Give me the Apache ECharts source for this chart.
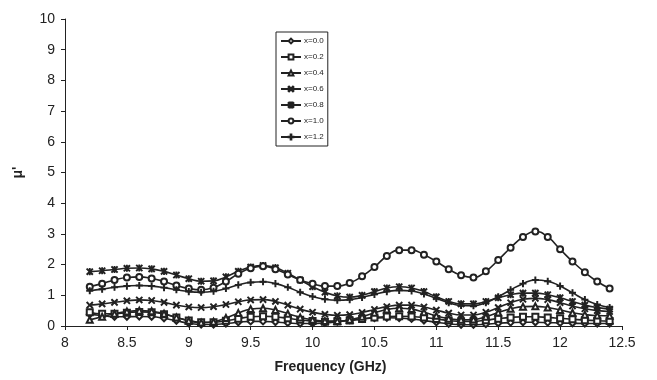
<!DOCTYPE html>
<html>
<head>
<meta charset="utf-8">
<script src="https://cdn.jsdelivr.net/npm/echarts@6/dist/echarts.min.js"></script>
<style>
  html, body { margin: 0; padding: 0; background: #fff; }
  #main { width: 657px; height: 380px; }
</style>
</head>
<body>
<div id="main"></div>
<script>
var freq = [8.2, 8.3, 8.4, 8.5, 8.6, 8.7, 8.8, 8.9, 9.0, 9.1, 9.2, 9.3, 9.4, 9.5, 9.6, 9.7, 9.8, 9.9,
  10.0, 10.1, 10.2, 10.3, 10.4, 10.5, 10.6, 10.7, 10.8, 10.9, 11.0, 11.1, 11.2, 11.3, 11.4, 11.5,
  11.6, 11.7, 11.8, 11.9, 12.0, 12.1, 12.2, 12.3, 12.4];

var x00 = [0.38, 0.34, 0.3, 0.3, 0.31, 0.3, 0.25, 0.17, 0.09, 0.05, 0.05, 0.08, 0.12, 0.15, 0.15, 0.13, 0.1, 0.08,
  0.08, 0.1, 0.14, 0.19, 0.23, 0.26, 0.27, 0.26, 0.23, 0.18, 0.12, 0.07, 0.04, 0.04, 0.06, 0.09,
  0.11, 0.12, 0.12, 0.11, 0.1, 0.09, 0.08, 0.08, 0.08];
var x02 = [0.45, 0.4, 0.4, 0.43, 0.46, 0.45, 0.38, 0.28, 0.18, 0.12, 0.12, 0.17, 0.24, 0.3, 0.32, 0.3, 0.25, 0.2,
  0.16, 0.14, 0.15, 0.18, 0.23, 0.28, 0.31, 0.32, 0.31, 0.28, 0.23, 0.18, 0.15, 0.15, 0.19, 0.24,
  0.28, 0.3, 0.3, 0.28, 0.25, 0.22, 0.19, 0.17, 0.16];
var x04 = [0.2, 0.3, 0.4, 0.47, 0.5, 0.48, 0.4, 0.28, 0.17, 0.11, 0.14, 0.26, 0.42, 0.55, 0.58, 0.52, 0.4, 0.28,
  0.2, 0.16, 0.16, 0.2, 0.3, 0.43, 0.54, 0.58, 0.55, 0.45, 0.33, 0.24, 0.2, 0.21, 0.3, 0.44,
  0.56, 0.63, 0.64, 0.6, 0.52, 0.43, 0.37, 0.34, 0.33];
var x06 = [0.68, 0.72, 0.77, 0.82, 0.85, 0.83, 0.77, 0.68, 0.62, 0.6, 0.63, 0.7, 0.79, 0.85, 0.86, 0.8, 0.68, 0.55,
  0.45, 0.38, 0.35, 0.37, 0.44, 0.54, 0.63, 0.68, 0.68, 0.62, 0.52, 0.42, 0.36, 0.36, 0.45, 0.6,
  0.76, 0.87, 0.9, 0.86, 0.76, 0.65, 0.56, 0.5, 0.47];
var x08 = [1.77, 1.8, 1.84, 1.88, 1.89, 1.86, 1.78, 1.66, 1.54, 1.46, 1.47, 1.6, 1.78, 1.92, 1.97, 1.9, 1.72, 1.5,
  1.28, 1.1, 0.98, 0.94, 1.0, 1.12, 1.24, 1.28, 1.24, 1.12, 0.95, 0.8, 0.72, 0.72, 0.8, 0.92,
  1.02, 1.07, 1.07, 1.02, 0.92, 0.8, 0.68, 0.6, 0.55];
var x10 = [1.28, 1.38, 1.5, 1.58, 1.6, 1.55, 1.45, 1.32, 1.22, 1.18, 1.25, 1.45, 1.7, 1.88, 1.95, 1.85, 1.68, 1.5,
  1.38, 1.3, 1.3, 1.4, 1.62, 1.92, 2.28, 2.47, 2.47, 2.32, 2.1, 1.85, 1.65, 1.58, 1.78, 2.15,
  2.55, 2.9, 3.08, 2.9, 2.5, 2.1, 1.75, 1.45, 1.22];
var x12 = [1.15, 1.2, 1.26, 1.3, 1.32, 1.3, 1.25, 1.18, 1.12, 1.1, 1.13, 1.22, 1.34, 1.42, 1.44, 1.38, 1.26, 1.1,
  0.96, 0.87, 0.84, 0.86, 0.93, 1.03, 1.12, 1.16, 1.14, 1.04, 0.9, 0.76, 0.67, 0.66, 0.76, 0.95,
  1.18, 1.38, 1.5, 1.46, 1.3, 1.08, 0.86, 0.7, 0.6];

var names = ['x=0.0', 'x=0.2', 'x=0.4', 'x=0.6', 'x=0.8', 'x=1.0', 'x=1.2'];
var values = [x00, x02, x04, x06, x08, x10, x12];
var xTicks = ['8', '8.5', '9', '9.5', '10', '10.5', '11', '11.5', '12', '12.5'];

var crossX = 'path://M0,1L1,0L5,4L9,0L10,1L6,5L10,9L9,10L5,6L1,10L0,9L4,5Z';
var star = 'path://M0,1L1,0L5,4L9,0L10,1L6,5L10,9L9,10L5,6L1,10L0,9L4,5ZM4.4,0H5.6V10H4.4Z';
var plus = 'path://M4.3,0H5.7V4.3H10V5.7H5.7V10H4.3V5.7H0V4.3H4.3Z';
var symbols = ['emptyDiamond', 'emptyRect', 'emptyTriangle', crossX, star, 'emptyCircle', plus];

var dom = document.getElementById('main');
var myChart = echarts.init(dom, null, { renderer: 'canvas' });

var series = names.map(function (n, i) {
  return {
    name: n,
    type: 'line',
    smooth: true,
    symbol: symbols[i],
    symbolSize: 6,
    showAllSymbol: true,
    color: '#222',
    lineStyle: { width: 1.6, color: '#222' },
    itemStyle: { color: '#222', borderColor: '#222', borderWidth: 1.1 },
    data: freq.map(function (f, k) { return [f, values[i][k]]; })
  };
});

var option = {
  animation: false,
  backgroundColor: '#fff',
  textStyle: { fontFamily: 'Liberation Sans, Arial, sans-serif' },
  legend: {
    orient: 'vertical',
    left: 276,
    top: 32,
    padding: [5, 4, 5, 4],
    itemGap: 8,
    itemWidth: 20,
    itemHeight: 6,
    backgroundColor: '#fff',
    borderColor: '#222',
    borderWidth: 1,
    textStyle: { fontSize: 8, color: '#222', padding: [0, 0, 0, -2] },
    data: names
  },
  grid: { left: 65, right: 35, top: 19, bottom: 54 },
  xAxis: {
    type: 'value',
    min: 8,
    max: 12.5,
    interval: 0.5,
    name: 'Frequency (GHz)',
    nameLocation: 'middle',
    nameGap: 34,
    nameTextStyle: { fontSize: 14, fontWeight: 'bold', color: '#222', padding: [0, 26, 0, 0] },
    axisLine: { lineStyle: { color: '#222', width: 1 } },
    axisTick: { show: true, length: 4, lineStyle: { color: '#222' } },
    axisLabel: {
      fontSize: 14, color: '#222', margin: 10,
      formatter: function (v) {
        var s = String(v);
        return xTicks.indexOf(s) >= 0 ? s : '';
      }
    },
    splitLine: { show: false }
  },
  yAxis: {
    type: 'value',
    min: 0,
    max: 10,
    interval: 1,
    name: "μ'",
    nameLocation: 'middle',
    nameGap: 40,
    nameRotate: 90,
    nameTextStyle: { fontSize: 14, fontWeight: 'bold', color: '#222' },
    axisLine: { show: true, lineStyle: { color: '#222', width: 1 } },
    axisTick: { show: true, length: 4, lineStyle: { color: '#222' } },
    axisLabel: { fontSize: 14, color: '#222', margin: 10 },
    splitLine: { show: false }
  },
  series: series
};

myChart.setOption(option);
window.addEventListener('resize', myChart.resize);
</script>
</body>
</html>
